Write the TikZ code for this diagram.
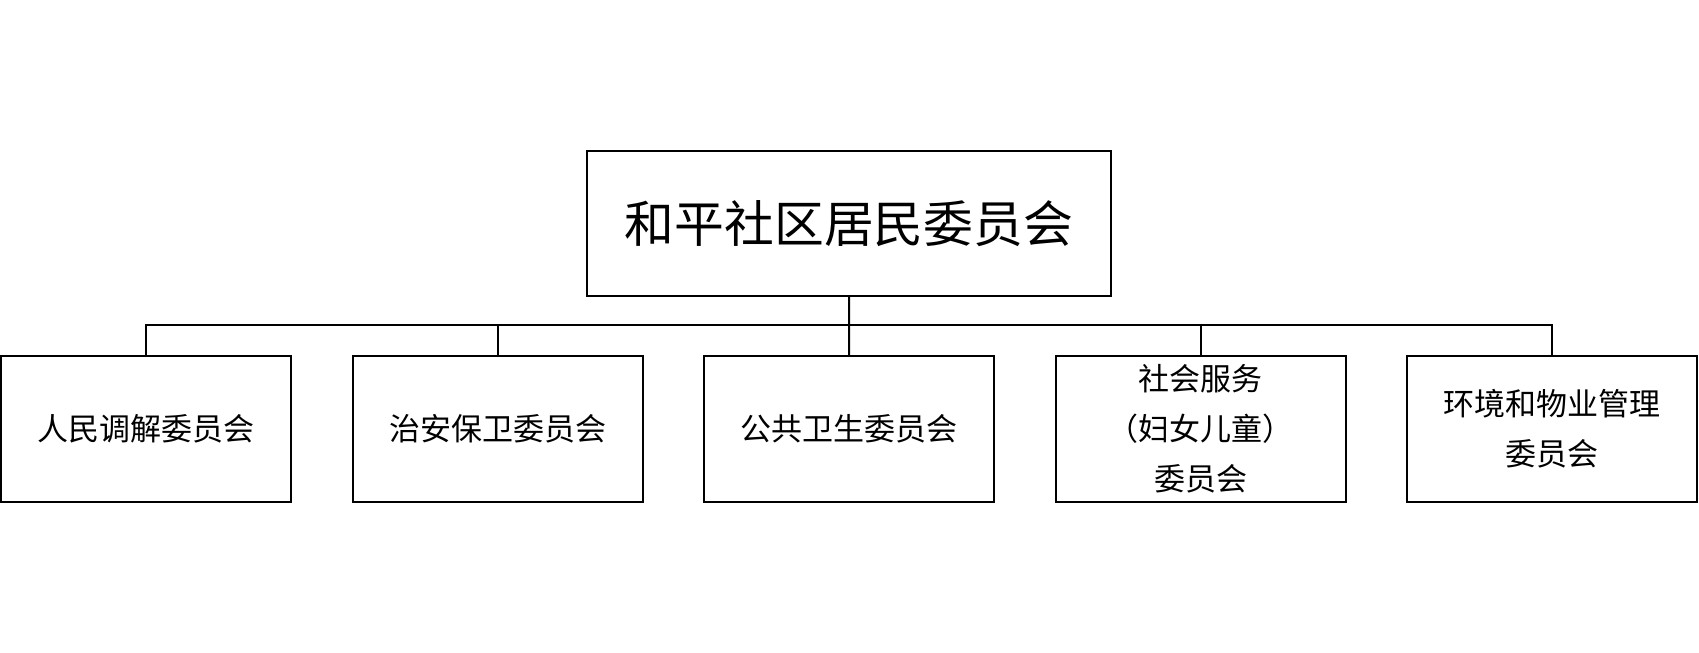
\documentclass[tikz,border=0pt]{standalone}
\usepackage{fontspec}
\IfFontExistsTF{FandolSong-Regular.otf}
  {\newfontfamily\song{FandolSong-Regular.otf}}
  {\newfontfamily\song{Noto Sans CJK SC}}
\begin{document}
\begin{tikzpicture}[x=0.5pt,y=-0.5pt,
  box/.style={draw=black,line width=1pt,align=center,inner sep=0pt},
  topbox/.style={box,minimum width=262pt,minimum height=72.5pt,font=\song\fontsize{24.9}{30}\selectfont},
  subbox/.style={box,minimum width=145pt,minimum height=73pt,font=\song\fontsize{15.5}{25}\selectfont},
  link/.style={draw=black,line width=1pt}]
\useasboundingbox (0,0) rectangle (1699,653);
\node[topbox] (top) at (849,223.5) {和平社区居民委员会};
\node[subbox] (c1) at (146,429) {人民调解委员会};
\node[subbox] (c2) at (497.6,429) {治安保卫委员会};
\node[subbox] (c3) at (849.2,429) {公共卫生委员会};
\node[subbox] (c4) at (1200.8,429) {社会服务\\（妇女儿童）\\委员会};
\node[subbox] (c5) at (1552.4,429) {环境和物业管理\\委员会};
\coordinate (bus) at (0,325);
\draw[link] (top.south) -- (c3.north);
\draw[link] (c1.north) -- (c1.north |- bus) -- (c5.north |- bus) -- (c5.north);
\draw[link] (c2.north) -- (c2.north |- bus);
\draw[link] (c4.north) -- (c4.north |- bus);
\end{tikzpicture}
\end{document}
